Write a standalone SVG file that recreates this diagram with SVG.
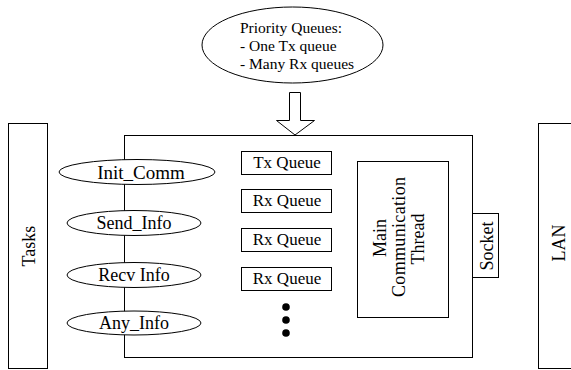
<svg xmlns="http://www.w3.org/2000/svg" width="571" height="370" viewBox="0 0 571 370">
<style>
.s{fill:#fff;stroke:#000;stroke-width:1}
.t{font-family:"Liberation Serif",serif;font-size:17px;fill:#000}
.c{text-anchor:middle}
.e{font-size:18px}
</style>
<rect width="571" height="370" fill="#fff"/>
<g id="tasks"><rect class="s" x="8.5" y="123.5" width="39" height="245"/><text class="t c" style="font-size:18px" transform="translate(35,246) rotate(-90)">Tasks</text></g>
<g id="lan"><rect class="s" x="538.5" y="123.5" width="40" height="245"/><text class="t c" style="font-size:18px" transform="translate(565,243) rotate(-90)">LAN</text></g>
<g id="priority"><ellipse class="s" cx="292.5" cy="45" rx="90.5" ry="38"/>
<text class="t" style="font-size:15.5px" x="240" y="33">Priority Queues:</text>
<text class="t" style="font-size:15.5px" x="240" y="51">- One Tx queue</text>
<text class="t" style="font-size:15.5px" x="240" y="69">- Many Rx queues</text></g>
<g id="connectors"><polygon class="s" points="289.5,92.5 300.5,92.5 300.5,120.5 314.5,120.5 295,135 276.5,120.5 289.5,120.5"/></g>
<g id="module"><rect class="s" x="124.5" y="135.5" width="348" height="222"/></g>
<g id="init_comm"><ellipse class="s" cx="137" cy="172" rx="78" ry="12.5"/><text class="t c" style="font-size:19px" x="141" y="178.5">Init_Comm</text></g>
<g id="send_info"><ellipse class="s" cx="134" cy="223" rx="67" ry="12.5"/><text class="t c e" x="134" y="229">Send_Info</text></g>
<g id="recv_info"><ellipse class="s" cx="134" cy="275" rx="67" ry="12.5"/><text class="t c e" x="134" y="281">Recv  Info</text></g>
<g id="any_info"><ellipse class="s" cx="134" cy="323" rx="67" ry="12"/><text class="t c e" x="134" y="329">Any_Info</text></g>
<g id="tx_queue"><rect class="s" x="241.5" y="151.5" width="90" height="23"/><text class="t c" x="287" y="168">Tx Queue</text></g>
<g id="rx_queue1"><rect class="s" x="241.5" y="189.5" width="90" height="23"/><text class="t c" x="287" y="206">Rx Queue</text></g>
<g id="rx_queue2"><rect class="s" x="241.5" y="228.5" width="90" height="23"/><text class="t c" x="287" y="245">Rx Queue</text></g>
<g id="rx_queue3"><rect class="s" x="241.5" y="267.5" width="90" height="23"/><text class="t c" x="287" y="284">Rx Queue</text></g>
<g id="dots"><circle cx="286" cy="307" r="3.8"/><circle cx="286" cy="320" r="3.8"/><circle cx="286" cy="333" r="3.8"/></g>
<g id="main_thread"><rect class="s" x="357.5" y="161.5" width="91" height="156"/>
<text class="t c e" transform="translate(386,238) rotate(-90)">Main</text>
<text class="t c e" textLength="120" transform="translate(405,237) rotate(-90)">Communication</text>
<text class="t c e" transform="translate(424,239) rotate(-90)">Thread</text></g>
<g id="socket"><rect class="s" x="472.5" y="213.5" width="26" height="64"/><text class="t c e" transform="translate(493,246) rotate(-90)">Socket</text></g>
</svg>
